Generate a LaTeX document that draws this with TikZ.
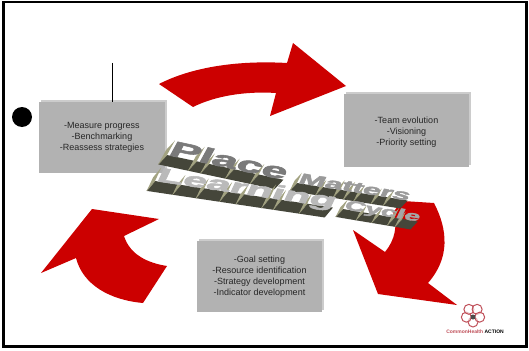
\documentclass[tikz,border=0pt]{standalone}
\usetikzlibrary{calc}
\usepackage{fontspec}
\setmainfont{Liberation Sans}
\newfontfamily\heavyfont[FakeBold=2.4]{Liberation Sans Bold}
\definecolor{arrowred}{HTML}{CC0000}
\definecolor{boxfill}{HTML}{B2B2B2}
\definecolor{boxback}{HTML}{CCCCCC}
\definecolor{extdark}{HTML}{45463A}
\definecolor{extlight}{HTML}{A3A382}
\definecolor{logored}{HTML}{C0505A}
\newlength\runx
\newlength\blockw
\newlength\blockh
% x, y, angle, font size, horizontal stretch, depth, face colour, letter list (width/height in 1/1000 em), word
\newcommand\threedword[9]{%
  \begin{scope}[shift={(#1,#2)},rotate=#3,xslant=0.3,xscale=#5,x=1pt,y=1pt]
    \global\runx=0pt
    \foreach \w/\h in {#8}{%
      \pgfmathsetlength{\blockw}{\w*#4/1000}%
      \pgfmathsetlength{\blockh}{\h*#4/1000}%
      \fill[extlight] (\runx,0) -- (\runx,\blockh) -- ++(-1.6,-#6) -- ++(0,-\blockh) -- cycle;
      \fill[extdark] (\runx,0) -- ++(\blockw,0) -- ++(-1.6,-#6) -- ++(-\blockw,0) -- cycle;
      \draw[extlight,line width=.5pt] (\runx,0) -- ++(-1.6,-#6);
      \global\advance\runx by \blockw
    }
    \node[transform shape,anchor=base west,inner sep=0pt,text=#7,font=\fontsize{#4}{#4}\heavyfont] at (0,0) {#9};
  \end{scope}}
\tikzset{
  redarrow/.style={fill=arrowred,draw=none},
  stepbox/.style={fill=boxfill,draw=none,inner sep=0pt,align=center,text=black!85,
    font=\fontsize{9}{11}\selectfont},
  backbox/.style={fill=boxback,draw=none},
  frameline/.style={draw=black,line width=2.6pt},
  petal/.style={draw=logored,line width=1pt,fill=white,fill opacity=.6}
}
\begin{document}
\begin{tikzpicture}[x=1pt,y=-1pt]
\useasboundingbox (0,0) rectangle (529,350);
\fill[white] (0,0) rectangle (529,350);
\draw[frameline] (3.5,2) rectangle (526.5,346.5);
% arrows
\fill[redarrow] (159,84) .. controls (190,68) and (235,60) .. (287,63)
  -- (293,43) -- (346,86) -- (270,116) -- (276,93)
  .. controls (245,91) and (215,96) .. (193,107) -- cycle;
\fill[redarrow] (403,201) -- (434,203) .. controls (448,230) and (450,258) .. (428,283)
  -- (457,305) -- (378,294) -- (353,230) -- (385,252)
  .. controls (395,240) and (398,225) .. (393,212) -- cycle;
\fill[redarrow] (92,209) -- (159,219) -- (124,236)
  .. controls (130,255) and (148,263) .. (167,266)
  -- (143,303) .. controls (110,300) and (83,285) .. (76,258) -- (41,273) -- cycle;
% boxes
\fill[backbox] (41,100) rectangle (167,171);
\fill[backbox] (346,92) rectangle (471,165);
\fill[backbox] (199,239) rectangle (324,310);
\node[stepbox,minimum width=126pt,minimum height=71pt] (measure) at (102,137.5)
  {-Measure progress\\-Benchmarking\\-Reassess strategies};
\node[stepbox,minimum width=125pt,minimum height=73pt] (team) at (406.5,130.5)
  {\rule{0pt}{10.5pt}-Team evolution\\-Visioning\\-Priority setting};
\node[stepbox,minimum width=125pt,minimum height=71pt] (goal) at (259.5,276.5)
  {-Goal setting\\-Resource identification\\-Strategy development\\-Indicator development};
% line and dot
\coordinate (linetop) at (112,63);
\draw[black,line width=1pt] (linetop) -- (linetop |- measure.north);
\node[circle,fill=black,minimum size=20pt,inner sep=0pt] (dot) at (22,117) {};
% 3-D title
\threedword{167}{155}{-12}{22}{2.07}{11}{black!52}{667/720,278/720,556/520,556/520,556/520}{Place}
\threedword{297}{183}{-9}{15}{2.1}{9}{black!40}{833/720,556/520,333/680,333/680,556/520,389/520,556/520}{Matters}
\threedword{155}{181}{-8.5}{20}{2.13}{11}{black!27}{611/720,556/520,556/520,389/520,611/520,278/720,611/520,611/520}{Learning}
\threedword{343}{209}{-9.5}{14}{2.03}{9}{black!35}{722/720,556/520,556/520,278/720,556/520}{Cycle}
% logo
\foreach \a [count=\i] in {90,162,234,306,18}
  \node[circle,petal,minimum size=10pt,inner sep=0pt] (petal\i) at ($(473,315)+(\a:7)$) {};
\node[circle,fill=black!70,minimum size=5pt,inner sep=0pt] (heart) at (473,317) {};
\node[anchor=center,inner sep=0pt,font=\fontsize{5}{6}\bfseries] (logotext) at (475,332)
  {\textcolor{logored}{CommonHealth} ACTION};
\end{tikzpicture}
\end{document}
